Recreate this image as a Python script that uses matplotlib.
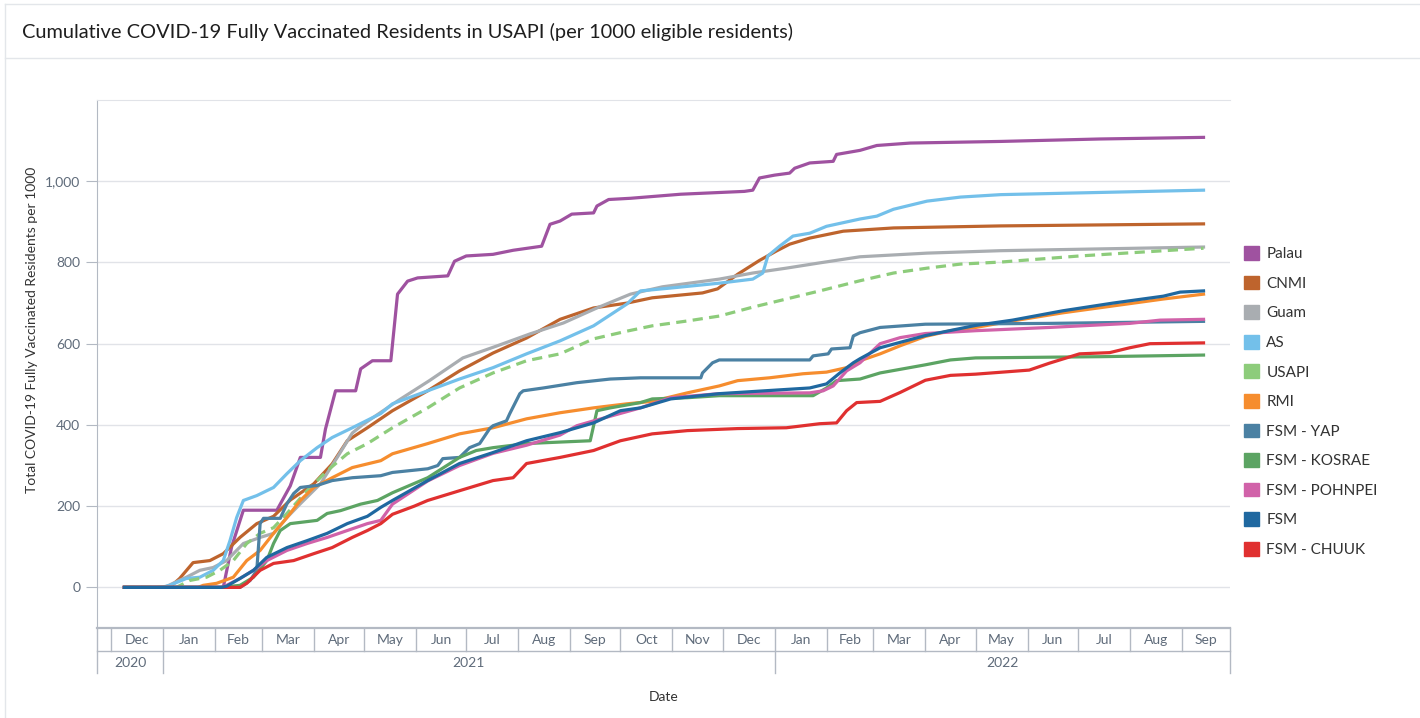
import numpy as np
import pandas as pd
import matplotlib
matplotlib.use("Agg")
import matplotlib.pyplot as plt
from matplotlib.patches import Patch
from matplotlib.lines import Line2D

plt.rcParams['font.family'] = ['Lato', 'DejaVu Sans']

start = pd.Timestamp('2020-12-01')

# days since 2020-12-01 / fully vaccinated per 1000 eligible residents
palau_d = [8, 67, 72, 79, 99, 107, 113, 125, 128, 134, 146, 149, 156, 167, 171, 177, 183, 201, 205, 212,
           228, 240, 257, 262, 268, 275, 288, 290, 297, 310, 340, 378, 383, 387, 396, 405, 408, 417, 431,
           433, 447, 457, 477, 531, 590, 652]
palau_v = [0, 0, 100, 190, 190, 250, 320, 320, 390, 484, 484, 538, 558, 558, 722, 754, 762, 767, 803, 816,
           820, 830, 840, 894, 902, 919, 922, 939, 955, 958, 968, 975, 978, 1008, 1015, 1020, 1032, 1045, 1049,
           1066, 1076, 1088, 1094, 1098, 1104, 1108]

cnmi_d = [8, 35, 41, 49, 59, 67, 77, 87, 97, 107, 121, 132, 141, 153, 168, 189, 208, 228, 248, 268, 288,
          308, 323, 353, 362, 374, 387, 397, 405, 417, 437, 467, 531, 652]
cnmi_v = [0, 0, 22, 61, 66, 83, 123, 157, 175, 215, 255, 304, 361, 393, 435, 484, 533, 577, 614, 660, 688,
          700, 713, 725, 735, 771, 805, 828, 845, 860, 877, 885, 890, 895]

guam_d = [8, 32, 37, 45, 53, 61, 69, 79, 89, 97, 105, 113, 125, 135, 144, 150, 171, 190, 210, 230, 250,
          270, 290, 310, 329, 363, 383, 403, 423, 447, 487, 531, 652]
guam_v = [0, 0, 10, 25, 42, 49, 66, 108, 123, 133, 172, 206, 255, 320, 380, 400, 459, 509, 565, 594, 624,
          651, 688, 722, 740, 759, 774, 786, 799, 814, 823, 829, 838]

as_d = [8, 30, 35, 45, 53, 61, 67, 71, 75, 79, 87, 97, 105, 113, 123, 132, 144, 161, 168, 189, 208, 228,
        248, 268, 288, 308, 316, 334, 363, 383, 389, 392, 399, 407, 417, 427, 447, 457, 467, 487, 507, 531, 652]
as_v = [0, 0, 5, 22, 25, 42, 66, 115, 172, 214, 226, 246, 280, 312, 344, 369, 393, 428, 452, 484, 513, 541,
        575, 607, 644, 698, 730, 737, 749, 759, 774, 816, 840, 865, 872, 889, 907, 914, 931, 951, 961, 967, 978]

usapi_d = [8, 39, 47, 57, 65, 73, 81, 89, 97, 105, 117, 129, 141, 153, 168, 189, 208, 228, 248, 268, 288,
           308, 323, 344, 363, 383, 403, 423, 447, 467, 487, 507, 531, 578, 652]
usapi_v = [0, 0, 17, 25, 42, 66, 108, 133, 147, 182, 238, 287, 329, 354, 393, 442, 491, 528, 558, 575, 612,
           631, 644, 656, 668, 690, 710, 730, 755, 774, 786, 796, 801, 816, 835]

rmi_d = [8, 52, 55, 63, 73, 81, 89, 97, 105, 113, 121, 132, 144, 161, 168, 189, 208, 228, 248, 268, 288,
         308, 323, 337, 344, 363, 374, 393, 413, 427, 439, 447, 459, 471, 486, 501, 516, 538, 568, 598, 628, 652]
rmi_v = [0, 0, 5, 10, 25, 66, 91, 133, 172, 214, 246, 270, 295, 312, 329, 354, 378, 393, 415, 430, 442,
         452, 458, 472, 479, 496, 509, 516, 526, 530, 541, 558, 575, 595, 618, 632, 640, 656, 676, 693, 710, 722]

yap_d = [8, 77, 83, 87, 89, 91, 101, 105, 109, 113, 123, 132, 144, 161, 168, 189, 195, 198, 208, 214, 220,
         226, 228, 236, 238, 244, 246, 258, 278, 298, 316, 352, 353, 359, 363, 417, 419, 428, 430, 441, 443,
         447, 459, 486, 560, 652]
yap_v = [0, 0, 17, 42, 157, 170, 170, 206, 231, 246, 251, 263, 270, 275, 283, 292, 300, 317, 320, 344, 354,
         391, 398, 410, 428, 477, 484, 491, 504, 513, 516, 516, 528, 553, 560, 560, 570, 575, 587, 590, 619,
         627, 640, 648, 650, 655]

kosrae_d = [8, 65, 77, 85, 93, 97, 101, 107, 113, 123, 129, 137, 149, 159, 168, 189, 208, 218, 228, 238,
            248, 258, 286, 290, 298, 316, 323, 344, 363, 419, 427, 433, 447, 459, 486, 501, 516, 590, 652]
kosrae_v = [0, 0, 5, 25, 66, 108, 140, 157, 160, 165, 182, 189, 205, 214, 233, 270, 320, 337, 344, 349,
            354, 356, 361, 435, 442, 455, 464, 467, 472, 472, 491, 509, 513, 528, 548, 560, 565, 568, 572]

pohnpei_d = [8, 66, 69, 77, 85, 93, 105, 117, 129, 141, 153, 161, 168, 189, 208, 228, 248, 268, 278, 288,
             316, 334, 363, 417, 425, 431, 439, 447, 459, 471, 486, 516, 560, 608, 626, 652]
pohnpei_v = [0, 0, 5, 22, 42, 66, 91, 108, 123, 140, 157, 165, 205, 262, 300, 330, 350, 375, 398, 410,
             442, 467, 477, 479, 484, 496, 533, 553, 600, 615, 625, 632, 640, 650, 658, 660]

fsm_d = [8, 66, 69, 77, 85, 93, 105, 117, 129, 141, 153, 161, 168, 189, 208, 228, 248, 268, 288, 304, 316,
         334, 363, 417, 427, 435, 443, 447, 459, 486, 516, 538, 568, 598, 628, 638, 652]
fsm_v = [0, 0, 3, 22, 42, 74, 98, 115, 133, 157, 175, 197, 214, 263, 305, 332, 361, 381, 405, 435, 442,
         464, 477, 491, 501, 528, 553, 563, 590, 620, 645, 658, 681, 700, 717, 727, 730]

chuuk_d = [8, 77, 81, 89, 97, 109, 121, 132, 144, 153, 161, 168, 181, 189, 208, 228, 240, 248, 268, 288,
           304, 323, 344, 374, 403, 423, 433, 439, 445, 459, 471, 486, 501, 516, 548, 560, 578, 596, 608, 620, 652]
chuuk_v = [0, 0, 10, 42, 59, 66, 83, 98, 123, 140, 157, 180, 200, 214, 238, 263, 270, 305, 320, 337,
           361, 378, 386, 391, 393, 403, 405, 435, 455, 458, 480, 510, 522, 525, 535, 552, 575, 578, 590, 600, 602]

names = ['Palau', 'CNMI', 'Guam', 'AS', 'USAPI', 'RMI', 'FSM - YAP', 'FSM - KOSRAE',
         'FSM - POHNPEI', 'FSM', 'FSM - CHUUK']
days = [palau_d, cnmi_d, guam_d, as_d, usapi_d, rmi_d, yap_d, kosrae_d, pohnpei_d, fsm_d, chuuk_d]
vals = [palau_v, cnmi_v, guam_v, as_v, usapi_v, rmi_v, yap_v, kosrae_v, pohnpei_v, fsm_v, chuuk_v]
colors = ['#9f52a0', '#be642d', '#a9adb1', '#73c0ea', '#8dcc7b', '#f68d2e', '#4b81a3', '#5ca463',
          '#d162a9', '#1f68a0', '#e03030']

grey_txt = '#5f6b7a'
line_grey = '#b3b9c3'

fig = plt.figure(figsize=(14.2, 7.18), dpi=100)

# card frame + title bar
fig.add_artist(Line2D([5/1420, 1], [1-4/718, 1-4/718], color='#e3e6ea', lw=1))
fig.add_artist(Line2D([5/1420, 5/1420], [0, 1-4/718], color='#e3e6ea', lw=1))
fig.add_artist(Line2D([5/1420, 1], [1-58/718, 1-58/718], color='#e3e6ea', lw=1))
fig.text(22/1420, 1-32/718, 'Cumulative COVID-19 Fully Vaccinated Residents in USAPI (per 1000 eligible residents)',
         fontsize=14.4, color='#1e1e1e', va='center', ha='left')

ax = fig.add_axes([97/1420, 1-628/718, 1133/1420, 528/718])

for i in range(len(names)):
    x = start + pd.to_timedelta(np.array(days[i]), unit='D')
    ls = (0, (3.2, 2.0)) if names[i] == 'USAPI' else '-'
    z = 4 if names[i] == 'FSM' else 3
    ax.plot(x, vals[i], color=colors[i], lw=2.3, ls=ls, zorder=z)

x0 = start + pd.Timedelta(days=-8.35)
x1 = start + pd.Timedelta(days=667.8)
ax.set_xlim(x0, x1)
ax.set_ylim(-100, 1200)
ax.set_yticks([0, 200, 400, 600, 800, 1000])
ax.set_yticklabels(['0', '200', '400', '600', '800', '1,000'])
ax.grid(axis='y', color='#e1e3e8', lw=1)
ax.set_axisbelow(True)
ax.tick_params(axis='y', length=8, color=line_grey, labelcolor=grey_txt, labelsize=10, pad=4)
ax.set_xticks([])
ax.spines['right'].set_visible(False)
ax.spines['top'].set_color('#e1e3e8')
ax.spines['left'].set_color(line_grey)
ax.spines['bottom'].set_color(line_grey)
ax.spines['bottom'].set_linewidth(1.6)

ax.set_ylabel('Total COVID-19 Fully Vaccinated Residents per 1000', fontsize=10, color='#333333')
ax.yaxis.set_label_coords(-0.052, 0.564)

# two-level date axis
tr = ax.get_xaxis_transform()
row1 = -23/528
row2 = -45/528
months = pd.date_range('2020-12-01', '2022-09-01', freq='MS')
ax.plot([x0, x1], [row1, row1], transform=tr, color=line_grey, lw=1, clip_on=False)
for edge in [x0, x1]:
    ax.plot([edge, edge], [0, row2], transform=tr, color=line_grey, lw=1, clip_on=False)
bounds = list(months) + [x1]
for j, m in enumerate(months):
    bottom = row2 if m.month == 1 else row1
    ax.plot([m, m], [0, bottom], transform=tr, color=line_grey, lw=1, clip_on=False)
    mid = m + (bounds[j+1] - m) / 2
    ax.text(mid, -12/528, m.strftime('%b'), transform=tr, ha='center', va='center',
            fontsize=10, color=grey_txt)
year_edges = [x0, pd.Timestamp('2021-01-01'), pd.Timestamp('2022-01-01'), x1]
for k, yr in enumerate(['2020', '2021', '2022']):
    mid = year_edges[k] + (year_edges[k+1] - year_edges[k]) / 2
    ax.text(mid, -35/528, yr, transform=tr, ha='center', va='center', fontsize=10, color=grey_txt)
ax.text(0.5, -69/528, 'Date', transform=ax.transAxes, ha='center', va='center', fontsize=10, color='#333333')

handles = [Patch(facecolor=c, edgecolor=c) for c in colors]
fig.legend(handles, names, loc='upper left', bbox_to_anchor=(1238/1420, 1-240/718), frameon=False,
           fontsize=11, handlelength=1.0, handleheight=1.0, handletextpad=0.45, labelspacing=0.95,
           borderaxespad=0, labelcolor='#333333')

fig.savefig('out.png', dpi=100)
